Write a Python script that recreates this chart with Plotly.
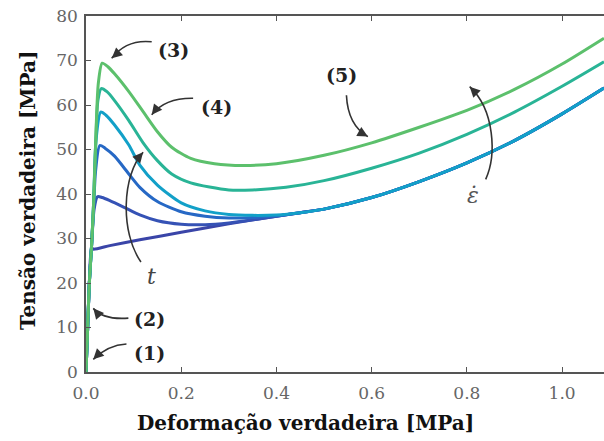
import plotly.graph_objects as go

# True stress-strain curves for increasing strain rate / time
# shared elastic rise
el_x = [0, 0.0035, 0.007, 0.0115]
el_y = [0, 10, 20, 28]

# common hardening branch reached by the lower curves at large strain
tail_x = [0.45, 0.5, 0.6, 0.7, 0.8, 0.9, 1.0, 1.088]
tail_y = [35.8, 36.6, 39.2, 42.8, 47.0, 52.0, 58.0, 63.8]

c1_x = el_x + [0.015, 0.05, 0.113, 0.2, 0.3, 0.4] + tail_x
c1_y = el_y + [27.6, 28.4, 29.7, 31.4, 33.3, 35.0] + tail_y

c2_x = el_x + [0.017, 0.024, 0.034, 0.05, 0.08, 0.113, 0.15, 0.2, 0.25, 0.3, 0.35, 0.4] + tail_x
c2_y = el_y + [36.5, 39.4, 39.2, 38.5, 37.0, 35.3, 34.0, 33.2, 33.1, 33.5, 34.2, 35.0] + tail_y

c3_x = el_x + [0.016, 0.02, 0.029, 0.04, 0.06, 0.09, 0.113, 0.15, 0.2, 0.25, 0.3, 0.35, 0.4] + tail_x
c3_y = el_y + [37, 45, 50.9, 50.3, 48.5, 44.5, 41.5, 38.3, 36.0, 35.0, 34.6, 34.7, 35.1] + tail_y

c4_x = el_x + [0.016, 0.021, 0.031, 0.042, 0.06, 0.09, 0.113, 0.15, 0.2, 0.25, 0.3, 0.35, 0.4] + tail_x
c4_y = el_y + [38, 52, 58.4, 57.7, 55.5, 51.0, 46.5, 42.0, 38.0, 36.2, 35.4, 35.2, 35.3] + tail_y

c5_x = el_x + [0.016, 0.021, 0.025, 0.032, 0.044, 0.06, 0.09, 0.12, 0.15, 0.18, 0.22, 0.3,
               0.35, 0.42, 0.5, 0.6, 0.7, 0.8, 0.9, 1.0, 1.088]
c5_y = el_y + [38, 53, 61, 63.7, 63.0, 61.0, 56.5, 51.5, 47.5, 44.5, 42.5, 40.9,
               40.9, 41.5, 43.0, 45.8, 49.2, 53.4, 58.4, 64.2, 69.7]

c6_x = el_x + [0.016, 0.021, 0.026, 0.034, 0.046, 0.06, 0.09, 0.12, 0.15, 0.18, 0.22, 0.27,
               0.33, 0.4, 0.5, 0.6, 0.7, 0.8, 0.9, 1.0, 1.088]
c6_y = el_y + [38, 54, 65, 69.4, 68.6, 67.0, 63.0, 58.5, 54.0, 50.5, 48.0, 46.8,
               46.4, 46.8, 48.7, 51.5, 55.0, 58.8, 63.5, 69.2, 75.0]

curves = [(c1_x, c1_y), (c2_x, c2_y), (c3_x, c3_y), (c4_x, c4_y), (c5_x, c5_y), (c6_x, c6_y)]
colors = ["#3a45a8", "#3552b5", "#2668c5", "#12a0c8", "#29b496", "#5cc06c"]

x_ticks = [0.0, 0.2, 0.4, 0.6, 0.8, 1.0]
y_ticks = [0, 10, 20, 30, 40, 50, 60, 70, 80]

SERIF = "DejaVu Serif"

fig = go.Figure()
for (cx, cy), col in zip(curves, colors):
    fig.add_trace(go.Scatter(x=cx, y=cy, mode="lines",
                             line=dict(color=col, width=3, shape="spline", smoothing=0.7),
                             hoverinfo="skip", showlegend=False))

ARROW = "#333333"

# curved pointer arrows: (start, control(s), tip, head offset in px)
pointers = [
    ([(0.138, 74.2), (0.085, 74.8), (0.054, 70.5)], (8, -7)),
    ([(0.225, 61.5), (0.166, 61.6), (0.138, 57.8)], (7, -9)),
    ([(0.547, 62.2), (0.550, 55.5), (0.592, 52.9)], (-9, -5)),
    ([(0.089, 12.1), (0.0357, 11.7), (0.0153, 14.3)], (6, 7)),
    ([(0.085, 6.3), (0.046, 6.07), (0.0153, 2.85)], (7, -7)),
    ([(0.1154, 24.72), (0.0714, 31.46), (0.0756, 44.27), (0.120, 49.37)], (-7, 8)),
    ([(0.8395, 43.3), (0.8626, 48.76), (0.8583, 58.88), (0.8059, 64.11)], (7, 7)),
]

shapes = []
annotations = []
for pts, (hx, hy) in pointers:
    p0 = pts[0]
    if len(pts) == 3:
        path = f"M {p0[0]},{p0[1]} Q {pts[1][0]},{pts[1][1]} {pts[2][0]},{pts[2][1]}"
    else:
        path = (f"M {p0[0]},{p0[1]} C {pts[1][0]},{pts[1][1]} "
                f"{pts[2][0]},{pts[2][1]} {pts[3][0]},{pts[3][1]}")
    shapes.append(dict(type="path", xref="x", yref="y", path=path,
                       line=dict(color=ARROW, width=1.6)))
    tip = pts[-1]
    annotations.append(dict(x=tip[0], y=tip[1], xref="x", yref="y", text="",
                            showarrow=True, ax=hx, ay=hy, arrowhead=2,
                            arrowsize=1.3, arrowwidth=1.6, arrowcolor=ARROW))

label_font = dict(family=SERIF, size=19, color="#222222")
labels = [
    ("<b>(3)</b>", 0.183, 72.4),
    ("<b>(4)</b>", 0.274, 59.6),
    ("<b>(5)</b>", 0.537, 66.7),
    ("<b>(2)</b>", 0.134, 11.9),
    ("<b>(1)</b>", 0.134, 4.2),
]
for txt, lx, ly in labels:
    annotations.append(dict(x=lx, y=ly, xref="x", yref="y", text=txt,
                            showarrow=False, font=label_font))

annotations.append(dict(x=0.138, y=21.4, xref="x", yref="y", text="<i>t</i>",
                        showarrow=False,
                        font=dict(family=SERIF, size=22, color="#444444")))
# strain-rate symbol
annotations.append(dict(x=0.813, y=39.6, xref="x", yref="y", text="<i>\u03b5\u0307</i>",
                        showarrow=False,
                        font=dict(family=SERIF, size=22, color="#555555")))

title_font = dict(family=SERIF, size=20, color="#111111")
annotations.append(dict(x=0.4228, y=-0.143, xref="paper", yref="paper",
                        text="<b>Deformação verdadeira [MPa]</b>", showarrow=False,
                        xanchor="center", yanchor="middle", font=title_font))
annotations.append(dict(x=-0.112, y=0.511, xref="paper", yref="paper",
                        text="<b>Tensão verdadeira [MPa]</b>", showarrow=False,
                        textangle=-90, xanchor="center", yanchor="middle", font=title_font))

tick_font = dict(family=SERIF, size=17, color="#666666")
fig.update_layout(
    width=604, height=441,
    margin=dict(l=86, r=0, t=16, b=69),
    paper_bgcolor="white", plot_bgcolor="white",
    font=dict(family=SERIF),
    shapes=shapes, annotations=annotations,
    xaxis=dict(range=[0, 1.088], tickvals=x_ticks,
               ticktext=[f"{v:.1f}" for v in x_ticks],
               ticks="inside", ticklen=5, tickwidth=1.2, tickcolor="#555555",
               ticklabelstandoff=5,
               showline=True, linecolor="#555555", linewidth=1.5, mirror="ticks",
               showgrid=False, zeroline=False, tickfont=tick_font),
    yaxis=dict(range=[0, 80], tickvals=y_ticks,
               ticks="inside", ticklen=5, tickwidth=1.2, tickcolor="#555555",
               ticklabelstandoff=3,
               showline=True, linecolor="#555555", linewidth=1.5,
               showgrid=False, zeroline=False, tickfont=tick_font),
)

fig.write_html("out.html")
